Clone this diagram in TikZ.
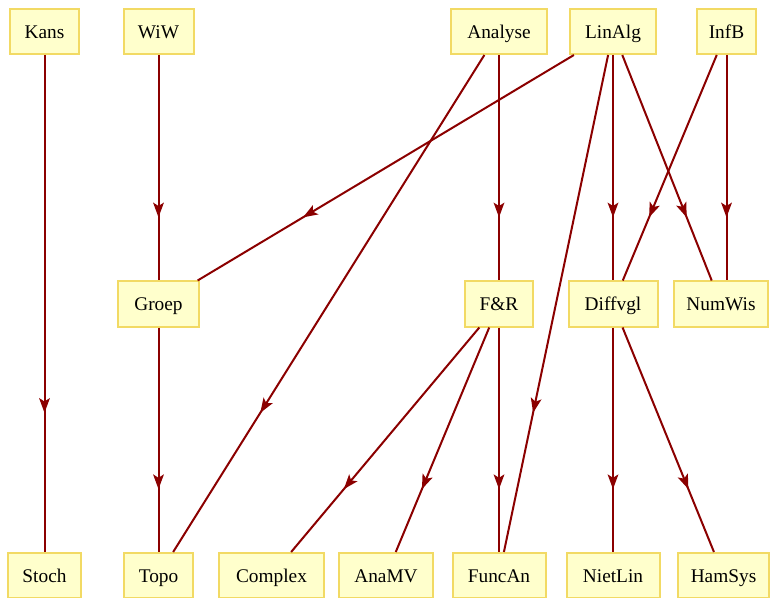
\documentclass[tikz,border=0pt]{standalone}
\usepackage{fontspec}
\setmainfont{Liberation Serif}
\usetikzlibrary{arrows.meta,decorations.markings}
\definecolor{nodefill}{RGB}{255,255,204}
\definecolor{nodeline}{RGB}{242,218,100}
\definecolor{edgecol}{RGB}{139,0,0}
\begin{document}
\begin{tikzpicture}[x=0.75pt,y=-0.75pt,
  box/.style={draw=nodeline, fill=nodefill, line width=1.5pt, minimum height=33.75pt, inner sep=0pt,
    text height=12pt, text depth=2pt, font=\fontsize{14.5}{16}\selectfont},
  link/.style={color=edgecol, line width=1.5pt, postaction={decorate},
    decoration={markings, mark=at position 0.72 with {\arrow{Stealth[length=11pt,width=8pt,inset=2.5pt]}}}}]
\useasboundingbox (0,0) rectangle (770,598);
\clip (0,0) rectangle (770,598);
% top row
\node[box, minimum width=52pt]    (kans)    at (44.5,31.5) {Kans};
\node[box, minimum width=52.5pt]  (wiw)     at (158.5,31.5) {WiW};
\node[box, minimum width=72pt]    (analyse) at (499,31.5) {Analyse};
\node[box, minimum width=64.5pt]  (linalg)  at (613,31.5) {LinAlg};
\node[box, minimum width=44.25pt] (infb)    at (726.5,31.5) {InfB};
% middle row
\node[box, minimum width=60.75pt] (groep)   at (158.5,304) {Groep};
\node[box, minimum width=51pt]    (fr)      at (499,304) {F\&R};
\node[box, minimum width=66.75pt] (diffvgl) at (613,304) {Diffvgl};
\node[box, minimum width=70.5pt]  (numwis)  at (721,304) {NumWis};
% bottom row
\node[box, minimum width=54.75pt] (stoch)   at (44.5,575.5) {Stoch};
\node[box, minimum width=52pt]    (topo)    at (158.5,575.5) {Topo};
\node[box, minimum width=78.75pt] (complex) at (271.5,575.5) {Complex};
\node[box, minimum width=70.5pt]  (anamv)   at (386,575.5) {AnaMV};
\node[box, minimum width=69.75pt] (funcan)  at (499,575.5) {FuncAn};
\node[box, minimum width=69.75pt] (nietlin) at (613,575.5) {NietLin};
\node[box, minimum width=68.25pt] (hamsys)  at (723.5,575.5) {HamSys};
% edges
\draw[link] (kans) -- (stoch);
\draw[link] (wiw) -- (groep);
\draw[link] (groep) -- (topo);
\draw[link] (analyse) -- (fr);
\draw[link] (analyse) -- (topo);
\draw[link] (linalg) -- (groep);
\draw[link] (linalg) -- (diffvgl);
\draw[link] (linalg) -- (numwis);
\draw[link] (linalg) -- (funcan);
\draw[link] (infb) -- (diffvgl);
\draw[link] (infb.south) -- (infb.south |- numwis.north);
\draw[link] (fr) -- (complex);
\draw[link] (fr) -- (anamv);
\draw[link] (fr) -- (funcan);
\draw[link] (diffvgl) -- (nietlin);
\draw[link] (diffvgl) -- (hamsys);
\end{tikzpicture}
\end{document}
